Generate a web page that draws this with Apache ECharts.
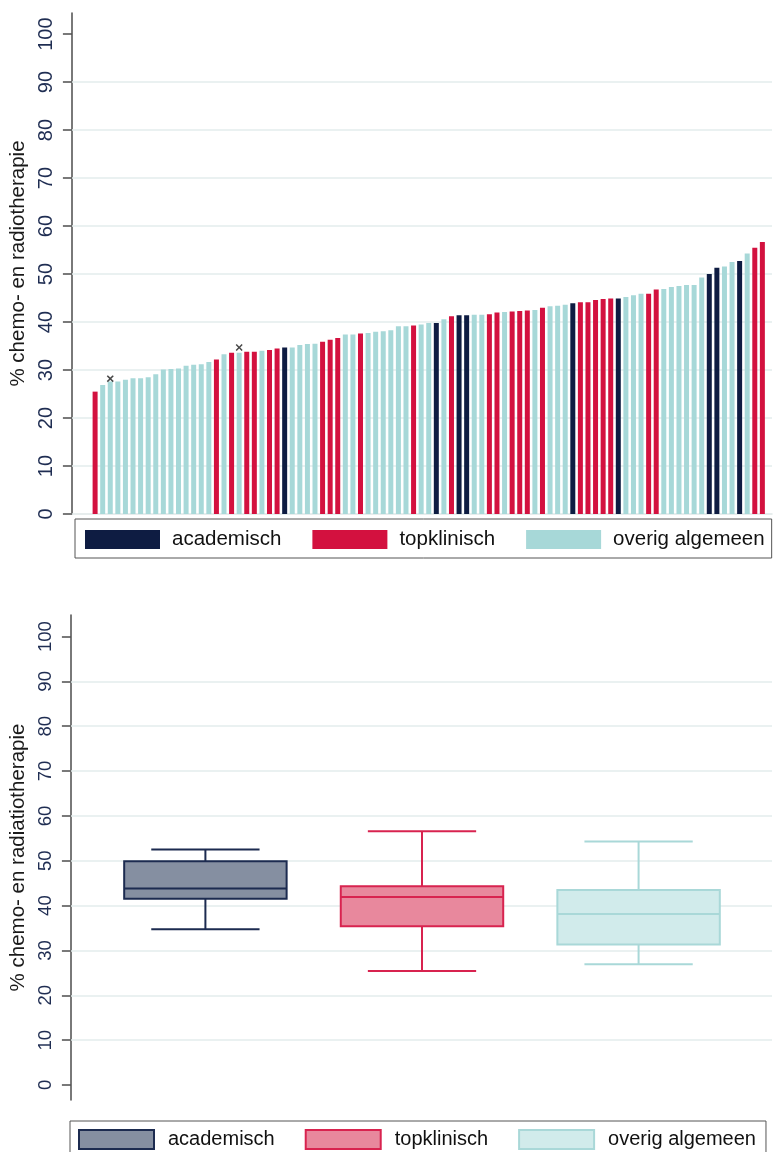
<!DOCTYPE html>
<html>
<head>
<meta charset="utf-8">
<script src="https://cdn.jsdelivr.net/npm/echarts@6/dist/echarts.min.js"></script>
<style>html,body{margin:0;padding:0;background:#fff}#c{width:773px;height:1152px}</style>
</head>
<body>
<div id="c"></div>
<script>
// ---------- data ----------
const categories = ['academisch', 'topklinisch', 'overig algemeen'];
// hospital type of each bar: 0 = academisch, 1 = topklinisch, 2 = overig algemeen
const barTypes = [
  1, 2, 2, 2, 2, 2, 2, 2, 2, 2, 2, 2, 2, 2, 2, 2, 1, 2, 1, 2,
  1, 1, 2, 1, 1, 0, 2, 2, 2, 2, 1, 1, 1, 2, 2, 1, 2, 2, 2, 2,
  2, 2, 1, 2, 2, 0, 2, 1, 0, 0, 2, 2, 1, 1, 2, 1, 1, 1, 2, 1,
  2, 2, 2, 0, 1, 1, 1, 1, 1, 0, 2, 2, 2, 1, 1, 2, 2, 2, 2, 2,
  2, 0, 0, 2, 2, 0, 2, 1, 1
];
const barValues = [
  25.5, 26.9, 27.6, 27.6, 28.0, 28.3, 28.3, 28.5, 29.1, 30.1,
  30.2, 30.3, 30.9, 31.1, 31.2, 31.7, 32.2, 33.3, 33.6, 33.6,
  33.8, 33.8, 34.0, 34.2, 34.5, 34.7, 34.7, 35.2, 35.4, 35.5,
  35.9, 36.3, 36.7, 37.4, 37.4, 37.6, 37.7, 38.0, 38.1, 38.3,
  39.1, 39.1, 39.3, 39.5, 39.8, 39.8, 40.6, 41.2, 41.4, 41.4,
  41.5, 41.5, 41.6, 42.0, 42.1, 42.2, 42.3, 42.4, 42.5, 43.0,
  43.3, 43.4, 43.6, 43.9, 44.1, 44.1, 44.6, 44.8, 44.9, 44.9,
  45.2, 45.6, 45.9, 45.9, 46.8, 46.9, 47.3, 47.5, 47.7, 47.7,
  49.3, 50.0, 51.3, 51.6, 52.5, 52.7, 54.3, 55.5, 56.7
];
// small "x" markers above two bars
const markerIdx = [2, 19];
const markerValues = [28.2, 34.7];
// box plot statistics per hospital type
const boxMin    = [34.7, 25.4, 26.9];
const boxQ1     = [41.5, 35.4, 31.3];
const boxMedian = [43.8, 41.9, 38.1];
const boxQ3     = [49.9, 44.3, 43.5];
const boxMax    = [52.5, 56.6, 54.3];
// axis ticks
const yTicks = [0, 10, 20, 30, 40, 50, 60, 70, 80, 90, 100];
const gridValues = [10, 20, 30, 40, 50, 60, 70, 80, 90];

// ---------- styles ----------
const FONT = "'Liberation Sans', Arial, sans-serif";
const barColors = ['#0e1c42', '#d3113f', '#a7d8d8'];
const boxFill   = ['#858fa1', '#e8889d', '#d1ebeb'];
const boxStroke = ['#1c2b50', '#d8234f', '#a9d8d8'];
const gridLineStyle = { color: '#e3ecec', width: 1.5, type: 'solid' };
const axisColor = '#4d4d4d';

function yAxisCommon(name, gridIndex, min, max, labelSize, nameGap, margin) {
  return {
    type: 'value', gridIndex, min, max,
    name, nameLocation: 'middle', nameGap,
    nameTextStyle: { fontSize: 20.5, color: '#1a1a1a', fontFamily: FONT },
    axisLine: { show: true, onZero: false, lineStyle: { color: axisColor, width: 1.5 } },
    axisTick: { show: true, length: 9, customValues: yTicks, lineStyle: { color: axisColor, width: 1.5 } },
    axisLabel: { rotate: 90, fontSize: labelSize, color: '#1f2d52', fontFamily: FONT, margin, customValues: yTicks },
    splitLine: { show: false }
  };
}

const barSeries = categories.map((name, k) => ({
  type: 'bar', name, xAxisIndex: 0, yAxisIndex: 0, z: 3,
  barWidth: 5, barGap: '-100%',
  itemStyle: { color: barColors[k] },
  data: barValues.map((v, i) => barTypes[i] === k ? [i, v] : null).filter(d => d),
  animation: false
}));

const boxSeries = categories.map((name, k) => ({
  type: 'custom', name, xAxisIndex: 1, yAxisIndex: 1, z: 3,
  encode: { x: 0, y: [1, 2, 3, 4, 5] },
  data: [[k, boxMin[k], boxQ1[k], boxMedian[k], boxQ3[k], boxMax[k]]],
  renderItem: function (params, api) {
    const x = api.value(0);
    const c = v => api.coord([x, v]);
    const cx = c(api.value(1))[0];
    const yMin = c(api.value(1))[1], yQ1 = c(api.value(2))[1], yMed = c(api.value(3))[1],
          yQ3 = c(api.value(4))[1], yMax = c(api.value(5))[1];
    const bw = api.size([0.75, 0])[0];
    const cw = api.size([0.5, 0])[0];
    const st = { stroke: boxStroke[k], lineWidth: 2, fill: null };
    return {
      type: 'group',
      children: [
        { type: 'line', shape: { x1: cx, y1: yQ3, x2: cx, y2: yMax }, style: st },
        { type: 'line', shape: { x1: cx, y1: yQ1, x2: cx, y2: yMin }, style: st },
        { type: 'line', shape: { x1: cx - cw / 2, y1: yMax, x2: cx + cw / 2, y2: yMax }, style: st },
        { type: 'line', shape: { x1: cx - cw / 2, y1: yMin, x2: cx + cw / 2, y2: yMin }, style: st },
        { type: 'rect', shape: { x: cx - bw / 2, y: yQ3, width: bw, height: yQ1 - yQ3 },
          style: { fill: boxFill[k], stroke: boxStroke[k], lineWidth: 2 } },
        { type: 'line', shape: { x1: cx - bw / 2, y1: yMed, x2: cx + bw / 2, y2: yMed }, style: st }
      ]
    };
  },
  animation: false
}));

function gridSeries(idx) {
  return {
    type: 'line', name: '_grid' + idx, xAxisIndex: idx, yAxisIndex: idx, z: 1, data: [],
    markLine: {
      z: 1, silent: true, symbol: ['none', 'none'], label: { show: false },
      lineStyle: gridLineStyle, animation: false,
      data: gridValues.map(v => ({ yAxis: v }))
    }
  };
}

const legendCommon = {
  orient: 'horizontal', icon: 'rect', itemWidth: 75, itemHeight: 19,
  borderColor: '#555', borderWidth: 1, selectedMode: false, width: 760
};

const option = {
  animation: false,
  textStyle: { fontFamily: FONT },
  grid: [
    { left: 69, width: 703, top: 13, height: 501 },
    { left: 63, width: 709, top: 615, height: 485 }
  ],
  xAxis: [
    { type: 'value', gridIndex: 0, min: -3.06, max: 89.27,
      axisLine: { show: true, onZero: false, lineStyle: { color: '#dfe8e8', width: 1.5 } },
      axisTick: { show: false }, axisLabel: { show: false }, splitLine: { show: false } },
    { type: 'value', gridIndex: 1, min: -0.621, max: 2.616,
      axisLine: { show: false }, axisTick: { show: false }, axisLabel: { show: false }, splitLine: { show: false } }
  ],
  yAxis: [
    yAxisCommon('% chemo- en radiotherapie', 0, 0, 104.4, 20, 36, 15),
    yAxisCommon('% chemo- en radiatiotherapie', 1, -3.35, 104.8, 18.5, 37, 15)
  ],
  legend: [
    Object.assign({}, legendCommon, {
      left: 75, top: 519, padding: [10, 7, 8, 10], itemGap: 31,
      textStyle: { fontSize: 20.5, color: '#111', fontFamily: FONT, padding: [0, 0, 0, 7] },
      data: categories.map((n, k) => ({ name: n, itemStyle: { color: barColors[k], borderWidth: 0 } }))
    }),
    Object.assign({}, legendCommon, {
      left: 70, top: 1121, padding: [8, 10, 8, 8], itemGap: 30,
      textStyle: { fontSize: 20, color: '#111', fontFamily: FONT, padding: [0, 0, 0, 9] },
      data: categories.map((n, k) => ({ name: n, itemStyle: { color: boxFill[k], borderColor: boxStroke[k], borderWidth: 2 } }))
    })
  ],
  series: [
    gridSeries(0),
    gridSeries(1),
    ...barSeries,
    {
      type: 'scatter', name: '_marker', xAxisIndex: 0, yAxisIndex: 0, z: 5,
      symbol: 'path://M0,1.5L1.5,0L5,3.5L8.5,0L10,1.5L6.5,5L10,8.5L8.5,10L5,6.5L1.5,10L0,8.5L3.5,5Z',
      symbolSize: 7, itemStyle: { color: '#1a1a1a' },
      data: markerIdx.map((i, j) => [i, markerValues[j]])
    },
    ...boxSeries
  ]
};

const chart = echarts.init(document.getElementById('c'), null, { renderer: 'canvas' });
chart.setOption(option);
</script>
</body>
</html>
